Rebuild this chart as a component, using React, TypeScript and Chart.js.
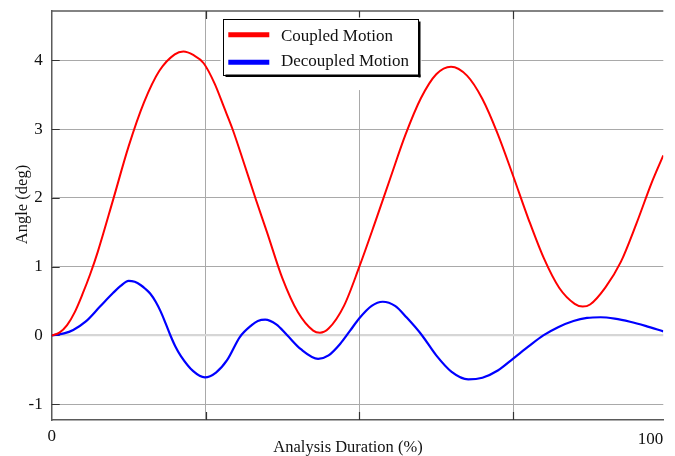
import React, { useEffect, useRef } from "react";
import { Chart, registerables } from "chart.js";

Chart.register(...registerables);

const coupledX = [0, 1.25, 2.5, 3.75, 5, 6.25, 7.5, 10, 12.5, 15, 17.5, 20, 21.4, 23, 24.7, 26.5, 28, 29.4, 31.2, 33.1, 35, 37.5, 40, 42.5, 43.6, 45, 47.5, 50, 52.5, 55, 57.5, 60, 62.5, 64.9, 67.5, 70, 72.5, 75, 77.5, 80, 82.5, 85, 86.3, 87.5, 90, 92.5, 95, 97.5, 99.4];
const coupledY = [0, 0.04, 0.15, 0.34, 0.6, 0.89, 1.22, 1.98, 2.75, 3.39, 3.85, 4.09, 4.13, 4.08, 3.96, 3.66, 3.32, 3.0, 2.52, 2.0, 1.5, 0.83, 0.34, 0.07, 0.04, 0.1, 0.43, 1.0, 1.63, 2.28, 2.92, 3.45, 3.8, 3.91, 3.78, 3.44, 2.93, 2.32, 1.69, 1.12, 0.69, 0.46, 0.42, 0.45, 0.7, 1.07, 1.62, 2.22, 2.62];

const decoupledX = [0, 2, 3.5, 5.5, 7.85, 10, 11.2, 12.5, 13.5, 14.5, 15.2, 16, 16.9, 17.7, 18.5, 19.3, 20.1, 21, 23, 24.9, 26.7, 28.5, 30.6, 32.5, 33.5, 34.7, 36.5, 38.2, 40.5, 43.3, 45, 46.9, 48.5, 50, 52, 53.8, 55.8, 57.7, 60.2, 62.5, 65, 67.7, 70, 72.5, 75.1, 77.5, 79.9, 82.3, 84.8, 87, 89.2, 91.5, 94, 96.5, 99.4];
const decoupledY = [0, 0.03, 0.08, 0.2, 0.42, 0.62, 0.72, 0.795, 0.78, 0.73, 0.68, 0.61, 0.49, 0.35, 0.18, 0, -0.16, -0.3, -0.52, -0.61, -0.54, -0.36, -0.02, 0.15, 0.21, 0.23, 0.16, 0.01, -0.2, -0.34, -0.29, -0.12, 0.07, 0.25, 0.43, 0.49, 0.43, 0.26, 0, -0.29, -0.53, -0.64, -0.615, -0.51, -0.33, -0.16, 0, 0.12, 0.21, 0.255, 0.265, 0.245, 0.2, 0.14, 0.06];

const seriesLabels = ["Coupled Motion", "Decoupled Motion"];
const seriesColors = ["#ff0000", "#0000ff"];

const xMin = 0;
const xMax = 99.4;
const xGridValues = [0, 25, 50, 75, 99.4];
const xTickLabels = ["0", "", "", "", "100"];
const yMin = -1.23;
const yMax = 4.72;
const yTickValues = [-1, 0, 1, 2, 3, 4];
const yTickLabels = ["-1", "0", "1", "2", "3", "4"];
const xTitle = "Analysis Duration (%)";
const yTitle = "Angle (deg)";
const partialGridX = 50;
const partialGridFromY = 3.57;

const FONT = "'Liberation Serif', 'Times New Roman', serif";
const AXIS_COLOR = "#5a5a5a";
const GRID_COLOR = "#a9a9a9";

const decorPlugin = {
  id: "decor",
  beforeDatasetsDraw(chart: any) {
    const { ctx, chartArea, scales } = chart;
    const xs = scales.x;
    const ys = scales.y;
    ctx.save();
    const px = Math.round(xs.getPixelForValue(partialGridX)) + 0.5;
    ctx.strokeStyle = GRID_COLOR;
    ctx.lineWidth = 1;
    ctx.beginPath();
    ctx.moveTo(px, ys.getPixelForValue(partialGridFromY));
    ctx.lineTo(px, chartArea.bottom);
    ctx.stroke();
    ctx.strokeStyle = AXIS_COLOR;
    ctx.lineWidth = 1.5;
    ctx.beginPath();
    ctx.moveTo(chartArea.left, chartArea.top);
    ctx.lineTo(chartArea.right, chartArea.top);
    ctx.stroke();
    ctx.strokeStyle = "#333";
    ctx.lineWidth = 1.2;
    ctx.beginPath();
    xGridValues.forEach((v) => {
      if (v === xMin || v === xMax) return;
      const x = Math.round(xs.getPixelForValue(v)) + 0.5;
      ctx.moveTo(x, chartArea.bottom);
      ctx.lineTo(x, chartArea.bottom - 8);
      ctx.moveTo(x, chartArea.top);
      ctx.lineTo(x, chartArea.top + 8);
    });
    yTickValues.forEach((v) => {
      const y = Math.round(ys.getPixelForValue(v)) + 0.5;
      ctx.moveTo(chartArea.left, y);
      ctx.lineTo(chartArea.left + 8, y);
    });
    ctx.stroke();
    ctx.restore();
  },
  afterDraw(chart: any) {
    const { ctx, chartArea, scales } = chart;
    const xs = scales.x;
    ctx.save();
    ctx.fillStyle = "#111";
    ctx.font = `17px ${FONT}`;
    ctx.textBaseline = "alphabetic";
    xGridValues.forEach((v, i) => {
      const lbl = xTickLabels[i];
      if (!lbl) return;
      const x = xs.getPixelForValue(v);
      if (i === xGridValues.length - 1) {
        ctx.textAlign = "right";
        ctx.fillText(lbl, x, chartArea.bottom + 24);
      } else {
        ctx.textAlign = "center";
        ctx.fillText(lbl, x, chartArea.bottom + 21);
      }
    });
    ctx.font = `16.5px ${FONT}`;
    ctx.textAlign = "center";
    ctx.fillText(xTitle, (chartArea.left + chartArea.right) / 2 - 9.5, chartArea.bottom + 31.5);
    ctx.save();
    ctx.translate(27.3, (chartArea.top + chartArea.bottom) / 2 - 11);
    ctx.rotate(-Math.PI / 2);
    ctx.textAlign = "center";
    ctx.fillText(yTitle, 0, 0);
    ctx.restore();

    const L = 223.5, T = 19.5, W = 195, H = 56;
    ctx.fillStyle = "#ffffff";
    ctx.fillRect(L - 3, T - 2, W + 6, H + 4);
    ctx.strokeStyle = "#000";
    ctx.lineWidth = 1;
    ctx.strokeRect(L, T, W, H);
    ctx.fillStyle = "#000";
    ctx.fillRect(L + W, T + 2, 2, H);
    ctx.fillRect(L + 2, T + H - 1, W, 2.5);
    const rows = [
      { lineY: 34.7, textY: 40.7 },
      { lineY: 62.3, textY: 66 },
    ];
    chart.data.datasets.forEach((ds: any, i: number) => {
      const r = rows[i];
      ctx.strokeStyle = ds.borderColor;
      ctx.lineWidth = 5;
      ctx.beginPath();
      ctx.moveTo(228.3, r.lineY);
      ctx.lineTo(269.3, r.lineY);
      ctx.stroke();
      ctx.fillStyle = "#111";
      ctx.font = `17px ${FONT}`;
      ctx.textAlign = "left";
      ctx.fillText(ds.label, 281, r.textY);
    });
    ctx.restore();
  },
};

export default function App() {
  const ref = useRef<HTMLCanvasElement | null>(null);
  useEffect(() => {
    if (!ref.current) return;
    const chart = new Chart(ref.current, {
      type: "line",
      data: {
        datasets: [
          {
            label: seriesLabels[0],
            data: coupledX.map((x, i) => ({ x, y: coupledY[i] })),
            borderColor: seriesColors[0],
            backgroundColor: seriesColors[0],
            borderWidth: 2,
            pointRadius: 0,
            cubicInterpolationMode: "monotone",
          },
          {
            label: seriesLabels[1],
            data: decoupledX.map((x, i) => ({ x, y: decoupledY[i] })),
            borderColor: seriesColors[1],
            backgroundColor: seriesColors[1],
            borderWidth: 2.2,
            pointRadius: 0,
            cubicInterpolationMode: "monotone",
          },
        ],
      },
      options: {
        animation: false,
        responsive: false,
        devicePixelRatio: 1,
        layout: { padding: { top: 11, right: 11.7, left: 0, bottom: 0 } },
        plugins: { legend: { display: false }, tooltip: { enabled: false } },
        scales: {
          x: {
            type: "linear",
            min: xMin,
            max: xMax,
            afterBuildTicks: (s: any) => {
              s.ticks = xGridValues.map((v) => ({ value: v }));
            },
            afterFit: (s: any) => {
              s.height = 36;
              s.paddingLeft = 0;
              s.paddingRight = 0;
            },
            ticks: { display: false },
            grid: {
              drawTicks: false,
              color: (c: any) =>
                c.tick && (c.tick.value === partialGridX || c.tick.value === xMax || c.tick.value === xMin)
                  ? "rgba(0,0,0,0)"
                  : GRID_COLOR,
              lineWidth: 1,
            },
            border: { display: true, color: AXIS_COLOR, width: 1.5 },
          },
          y: {
            type: "linear",
            min: yMin,
            max: yMax,
            afterBuildTicks: (s: any) => {
              s.ticks = yTickValues.map((v) => ({ value: v }));
            },
            afterFit: (s: any) => {
              s.width = 51.7;
              s.paddingTop = 0;
              s.paddingBottom = 0;
            },
            ticks: {
              padding: 9,
              color: "#111",
              font: { family: FONT, size: 17 },
              callback: (v: any) => {
                const idx = yTickValues.indexOf(Number(v));
                return idx >= 0 ? yTickLabels[idx] : "";
              },
            },
            grid: {
              drawTicks: false,
              color: (c: any) => (c.tick && c.tick.value === 0 ? "#d6d6d6" : GRID_COLOR),
              lineWidth: (c: any) => (c.tick && c.tick.value === 0 ? 2.2 : 1),
            },
            border: { display: true, color: AXIS_COLOR, width: 1.5 },
          },
        },
      },
      plugins: [decorPlugin],
    } as any);
    return () => chart.destroy();
  }, []);
  return (
    <div style={{ position: "fixed", left: 0, top: 0, width: 675, height: 456, background: "#fff" }}>
      <canvas ref={ref} width={675} height={456} style={{ display: "block", width: 675, height: 456 }} />
    </div>
  );
}
